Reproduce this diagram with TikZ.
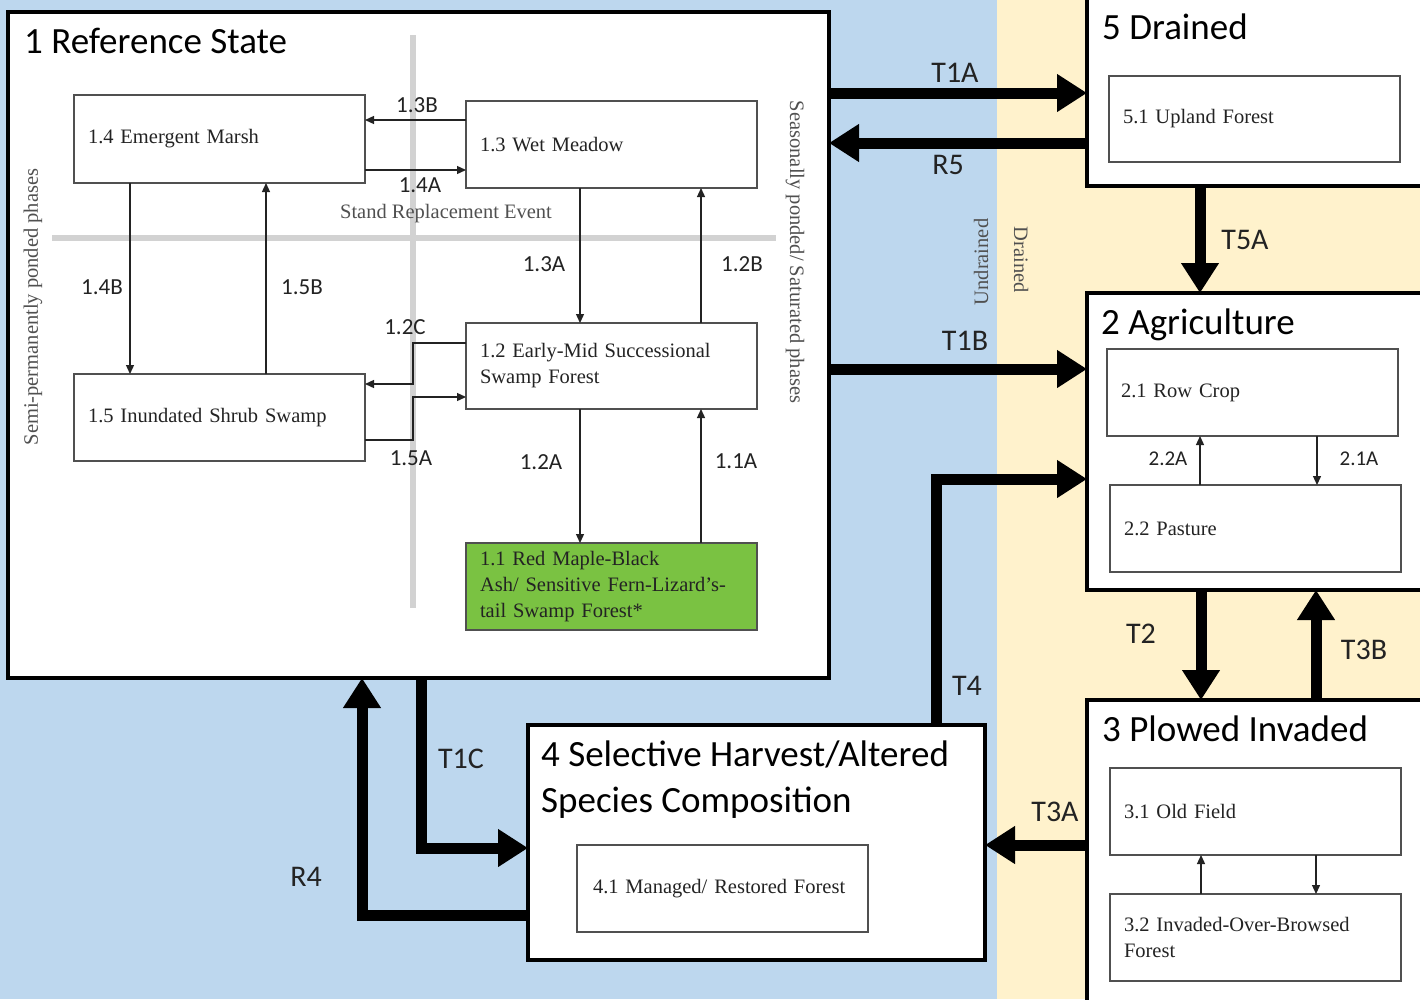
\documentclass[tikz,border=0pt]{standalone}
\usepackage{fontspec}
\setmainfont{Liberation Serif}
\newfontfamily\calib{Carlito}
\usetikzlibrary{arrows.meta}
\definecolor{bgblue}{RGB}{189,215,238}
\definecolor{bgbeige}{RGB}{255,242,204}
\definecolor{fgreen}{RGB}{122,194,66}
\definecolor{gline}{RGB}{210,210,210}
\definecolor{ink}{RGB}{35,35,35}
\definecolor{boxline}{RGB}{80,80,80}
\begin{document}
\begin{tikzpicture}[x=1pt,y=-1pt,
  statebox/.style={draw=black, line width=4pt, fill=white, anchor=north west, inner sep=0pt, outer sep=0pt},
  phase/.style={draw=boxline, line width=1.6pt, fill=white, anchor=north west, outer sep=0pt,
    minimum width=291pt, minimum height=87pt, inner xsep=14pt, inner ysep=0pt, text width=263pt,
    align=left, font=\fontsize{20.5}{26}\selectfont, text=ink},
  title/.style={anchor=base west, font=\calib\fontsize{37}{44}\selectfont, text=black, inner sep=0pt},
  tlab/.style={font=\calib\fontsize{30}{34}\selectfont, text=ink, inner sep=0pt},
  slab/.style={font=\calib\fontsize{23}{26}\selectfont, text=ink, inner sep=0pt},
  alab/.style={font=\calib\fontsize{21}{24}\selectfont, text=ink, inner sep=0pt},
  side/.style={font=\fontsize{20.5}{22}\selectfont, text=boxline, inner sep=0pt},
  big/.style={draw=black, line width=11pt, -{Triangle[length=30pt,width=36pt]}},
  thinarr/.style={draw=ink, line width=1.3pt, -{Triangle[length=9pt,width=8pt]}},
  grayline/.style={draw=gline, line width=6pt}
]
\useasboundingbox (0,0) rectangle (1420,999);
\clip (0,0) rectangle (1420,999);
% background bands
\fill[bgblue] (0,0) rectangle (997,999);
\fill[bgbeige] (997,0) rectangle (1420,999);

% state boxes
\node[statebox, minimum width=821pt, minimum height=666pt] (s1) at (8,12) {};
\node[statebox, minimum width=340pt, minimum height=190pt] (s5) at (1087,-4) {};
\node[statebox, minimum width=340pt, minimum height=297pt] (s2) at (1087,293) {};
\node[statebox, minimum width=340pt, minimum height=310pt] (s3) at (1087,700) {};
\node[statebox, minimum width=457pt, minimum height=235pt] (s4) at (528,725) {};

% state titles
\node[title] (t1) at (24,53) {1 Reference State};
\node[title] (t5) at (1102,39) {5 Drained};
\node[title] (t2) at (1101,334) {2 Agriculture};
\node[title] (t3) at (1102,741) {3 Plowed Invaded};
\node[title] (t4a) at (541,766) {4 Selective Harvest/Altered};
\node[title] (t4b) at (541,812) {Species Composition};

% gray phase dividers
\draw[grayline] (413,35) coordinate (gv1) -- (413,608) coordinate (gv2);
\draw[grayline] (52,238) coordinate (gh1) -- (776,238) coordinate (gh2);
\node[side] (sre) at (446,214) {Stand Replacement Event};
\node[side, rotate=90] (semi) at (33,307) {Semi-permanently ponded phases};
\node[side, rotate=-90] (seas) at (795,252) {Seasonally ponded/ Saturated phases};
\node[side, rotate=90] (undr) at (981,262) {Undrained};
\node[side, rotate=-90] (drn) at (1021,260) {Drained};

% phase boxes, state 1
\node[phase, minimum height=88pt] (b14) at (74,95) {1.4 Emergent Marsh};
\node[phase] (b13) at (466,101) {1.3 Wet Meadow};
\node[phase, minimum height=86pt] (b12) at (466,323) {1.2 Early-Mid Successional\\Swamp Forest};
\node[phase] (b15) at (74,374) {1.5 Inundated Shrub Swamp};
\node[phase, fill=fgreen, draw=boxline] (b11) at (466,543) {1.1 Red Maple-Black\\Ash/ Sensitive Fern-Lizard's-\\tail Swamp Forest*};
% other phase boxes
\node[phase, minimum height=86pt] (b51) at (1109,76) {5.1 Upland Forest};
\node[phase] (b21) at (1107,349) {2.1 Row Crop};
\node[phase] (b22) at (1110,485) {2.2 Pasture};
\node[phase] (b31) at (1110,768) {3.1 Old Field};
\node[phase] (b32) at (1110,894) {3.2 Invaded-Over-Browsed\\Forest};
\node[phase, inner xsep=16pt, text width=259pt] (b41) at (577,845) {4.1 Managed/ Restored Forest};

% thin connectors in state 1
\draw[thinarr] ([yshift=-19pt]b13.north west) -- ([yshift=-25pt]b14.north east);
\draw[thinarr] ([yshift=-75pt]b14.north east) -- ([yshift=-69pt]b13.north west);
\draw[thinarr] ([xshift=56pt]b14.south west) -- ([xshift=56pt]b15.north west);
\draw[thinarr] ([xshift=192pt]b15.north west) -- ([xshift=192pt]b14.south west);
\draw[thinarr] ([xshift=114pt]b13.south west) -- ([xshift=114pt]b12.north west);
\draw[thinarr] ([xshift=235pt]b12.north west) -- ([xshift=235pt]b13.south west);
\draw[thinarr] ([xshift=114pt]b12.south west) -- ([xshift=114pt]b11.north west);
\draw[thinarr] ([xshift=235pt]b11.north west) -- ([xshift=235pt]b12.south west);
\draw[thinarr] ([yshift=-20pt]b12.north west) -- ++(-53,0) |- ([yshift=-10pt]b15.north east);
\draw[thinarr] ([yshift=-66pt]b15.north east) -- ++(48,0) |- ([yshift=-74pt]b12.north west);
% thin connectors in states 2 and 3
\draw[thinarr] ([xshift=90pt]b22.north west) -- ([xshift=93pt]b21.south west);
\draw[thinarr] ([xshift=210pt]b21.south west) -- ([xshift=207pt]b22.north west);
\draw[thinarr] ([xshift=91pt]b32.north west) -- ([xshift=91pt]b31.south west);
\draw[thinarr] ([xshift=206pt]b31.south west) -- ([xshift=206pt]b32.north west);

% phase transition labels
\node[slab] (l13b) at (417,105) {1.3B};
\node[slab] (l14a) at (420,185) {1.4A};
\node[slab] (l14b) at (102,287) {1.4B};
\node[slab] (l15b) at (302,287) {1.5B};
\node[slab] (l13a) at (544,264) {1.3A};
\node[slab] (l12b) at (742,264) {1.2B};
\node[slab] (l12c) at (405,327) {1.2C};
\node[slab] (l15a) at (411,458) {1.5A};
\node[slab] (l12a) at (541,462) {1.2A};
\node[slab] (l11a) at (736,461) {1.1A};
\node[alab] (l22a) at (1168,459) {2.2A};
\node[alab] (l21a) at (1359,459) {2.1A};

% state transitions
\draw[big] ([yshift=-81pt]s1.north east) -- ([yshift=-97pt]s5.north west);
\draw[big] ([yshift=-147pt]s5.north west) -- ([yshift=-131pt]s1.north east);
\draw[big] ([xshift=113pt]s5.south west) -- ([xshift=113pt]s2.north west);
\draw[big] ([yshift=-357pt]s1.north east) -- ([yshift=-76pt]s2.north west);
\draw[big] ([xshift=408pt]s4.north west) |- ([yshift=-186pt]s2.north west);
\draw[big] ([xshift=114pt]s2.south west) -- ([xshift=114pt]s3.north west);
\draw[big] ([xshift=229pt]s3.north west) -- ([xshift=229pt]s2.south west);
\draw[big] ([yshift=-145pt]s3.north west) -- ([yshift=-120pt]s4.north east);
\draw[big] ([xshift=413pt]s1.south west) |- ([yshift=-123pt]s4.north west);
\draw[big] ([yshift=-190pt]s4.north west) -| ([xshift=354pt]s1.south west);

\node[tlab] (lt1a) at (955,73) {T1A};
\node[tlab] (lr5) at (948,165) {R5};
\node[tlab] (lt5a) at (1245,240) {T5A};
\node[tlab] (lt1b) at (965,341) {T1B};
\node[tlab] (lt4) at (967,686) {T4};
\node[tlab] (lt2) at (1141,634) {T2};
\node[tlab] (lt3b) at (1364,650) {T3B};
\node[tlab] (lt3a) at (1055,812) {T3A};
\node[tlab] (lt1c) at (461,759) {T1C};
\node[tlab] (lr4) at (306,877) {R4};
\end{tikzpicture}
\end{document}
